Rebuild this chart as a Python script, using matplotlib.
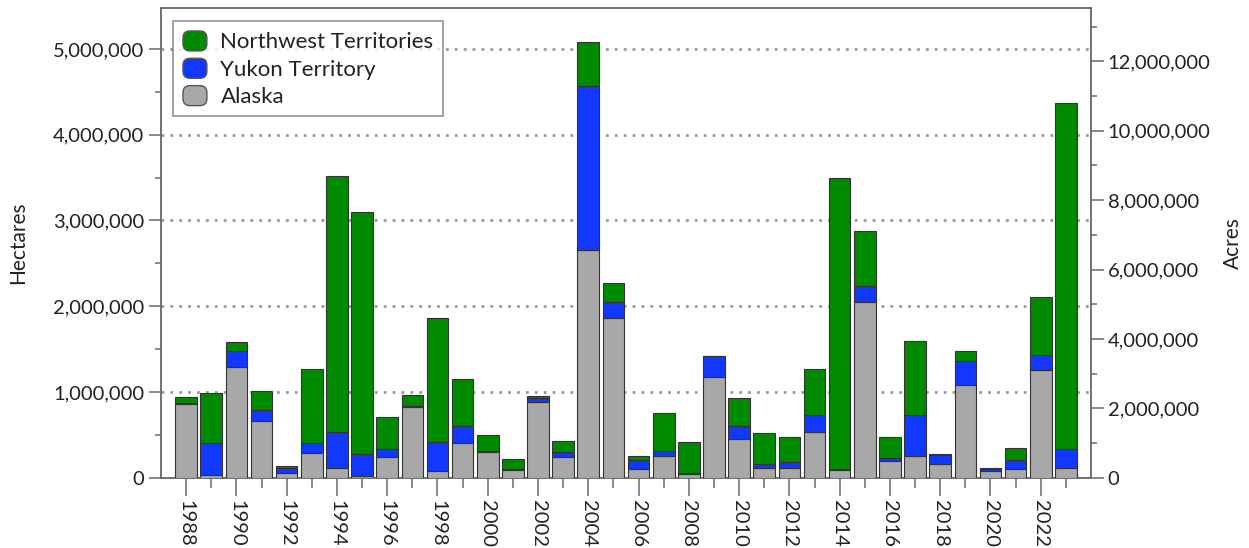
#!/usr/bin/env python
import matplotlib
matplotlib.use("Agg")
import matplotlib.pyplot as plt
from matplotlib.patches import FancyBboxPatch, Patch
from matplotlib.legend_handler import HandlerPatch
from matplotlib.ticker import FuncFormatter, MultipleLocator
import numpy as np

plt.rcParams['font.family'] = ['Lato', 'DejaVu Sans']

# area burned per year, thousands of hectares
years = list(range(1988, 2024))
alaska = [860, 35, 1286, 657, 60, 290, 109, 20, 240, 820, 74, 404, 305, 85,
          878, 241, 2657, 1861, 105, 256, 45, 1177, 451, 113, 113, 528, 93,
          2055, 198, 256, 163, 1080, 74, 101, 1251, 113]
yukon = [10, 375, 186, 128, 50, 116, 419, 260, 93, 15, 342, 198, 12, 20,
         54, 54, 1912, 187, 97, 55, 15, 237, 147, 50, 66, 206, 5,
         175, 30, 478, 105, 280, 25, 109, 179, 225]
nwt = [70, 577, 105, 221, 30, 863, 2990, 2820, 370, 125, 1452, 548, 176, 113,
       16, 128, 516, 217, 54, 443, 352, 5, 334, 361, 291, 533, 3400,
       649, 250, 863, 5, 112, 10, 136, 683, 4029]

HA_TO_ACRES = 2.47105
c_green = '#008a00'
c_blue = '#1238ff'
c_gray = '#a8a8a8'

ak = np.array(alaska) * 1000.0
yk = np.array(yukon) * 1000.0
nw = np.array(nwt) * 1000.0


class RoundHandler(HandlerPatch):
    def create_artists(self, legend, orig_handle, xdescent, ydescent,
                       width, height, fontsize, trans):
        p = FancyBboxPatch((-xdescent + 1, -ydescent + 1), width - 2, height - 2,
                           boxstyle="round,pad=0,rounding_size=5",
                           facecolor=orig_handle.get_facecolor(),
                           edgecolor='#555555', linewidth=1.0)
        p.set_transform(trans)
        return [p]


fig = plt.figure(figsize=(12.49, 5.48), dpi=100)
ax = fig.add_axes([0.1289, 0.1283, 0.8735 - 0.1289, 0.9863 - 0.1283])

w = 0.86
kw = dict(width=w, edgecolor='#333333', linewidth=0.8, zorder=3)
ax.bar(years, ak, color=c_gray, **kw)
ax.bar(years, yk, bottom=ak, color=c_blue, **kw)
ax.bar(years, nw, bottom=ak + yk, color=c_green, **kw)

ymax = 5.484e6
ax.set_xlim(1987.0, 2024.0)
ax.set_ylim(0, ymax)

for v in range(1, 6):
    ax.axhline(v * 1e6, color='#9a9a9a', linestyle=(0, (1, 2.2)),
               linewidth=2.0, zorder=1)

comma = FuncFormatter(lambda v, p: f'{v:,.0f}')
ax.yaxis.set_major_locator(MultipleLocator(1e6))
ax.yaxis.set_minor_locator(MultipleLocator(5e5))
ax.yaxis.set_major_formatter(comma)
ax.set_xticks(years[::2])
ax.set_xticks(years[1::2], minor=True)
ax.set_xticklabels([str(y) for y in years[::2]], rotation=270)

ax.tick_params(axis='y', which='major', length=9, width=1.2, color='#777777',
               labelsize=14.5, labelcolor='#222222', pad=3)
ax.tick_params(axis='y', which='minor', length=4, width=1.2, color='#777777')
ax.tick_params(axis='x', which='major', length=13, width=1.2, color='#777777',
               labelsize=14.5, labelcolor='#222222', pad=3)
ax.tick_params(axis='x', which='minor', length=7, width=1.2, color='#777777')
for s in ax.spines.values():
    s.set_color('#666666')
    s.set_linewidth(1.3)
ax.set_ylabel('Hectares', fontsize=15, color='#222222')
ax.yaxis.set_label_coords(-0.143, 0.5)

# second scale in acres
ax2 = ax.twinx()
ax2.set_ylim(0, ymax * HA_TO_ACRES)
ax2.yaxis.set_major_locator(MultipleLocator(2e6))
ax2.yaxis.set_minor_locator(MultipleLocator(1e6))
ax2.yaxis.set_major_formatter(comma)
ax2.tick_params(axis='y', which='major', length=9, width=1.2, color='#777777',
                labelsize=14.5, labelcolor='#222222', pad=3)
ax2.tick_params(axis='y', which='minor', length=4, width=1.2, color='#777777')
for s in ax2.spines.values():
    s.set_visible(False)
ax2.set_ylabel('Acres', fontsize=15, color='#222222')
ax2.yaxis.set_label_coords(1.142, 0.5)

handles = [Patch(facecolor=c_green, label='Northwest Territories'),
           Patch(facecolor=c_blue, label='Yukon Territory'),
           Patch(facecolor=c_gray, label='Alaska')]
leg = ax.legend(handles=handles, loc='upper left', bbox_to_anchor=(0.0126, 0.972),
                borderaxespad=0, fontsize=16, frameon=True, fancybox=False,
                handlelength=1.2, handleheight=1.2, labelspacing=0.2,
                handletextpad=0.55, borderpad=0.4,
                handler_map={Patch: RoundHandler()})
leg.get_frame().set_edgecolor('#777777')
leg.get_frame().set_linewidth(1.2)
for t in leg.get_texts():
    t.set_color('#222222')

fig.savefig('out.png', dpi=100)
